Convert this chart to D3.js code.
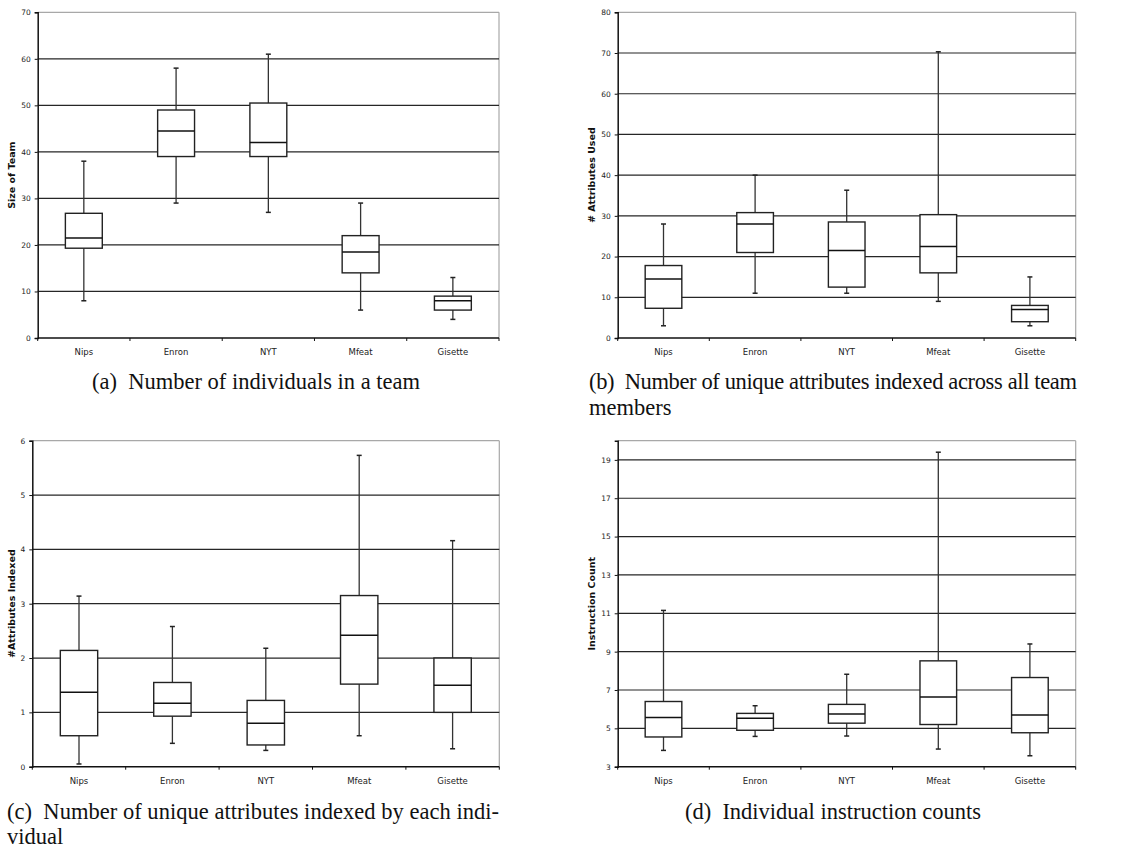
<!DOCTYPE html>
<html>
<head>
<meta charset="utf-8">
<script src="https://cdn.jsdelivr.net/npm/d3@7"></script>
<style>
  html, body { margin: 0; padding: 0; background: #fff; }
  svg { display: block; }
</style>
</head>
<body>
<svg id="chart" width="1125" height="850"></svg>
<script>
// ---- Data ----
const categories = ["Nips", "Enron", "NYT", "Mfeat", "Gisette"];

// (a) Size of team
const teamMin    = [8, 29, 27, 6, 4];
const teamQ1     = [19.3, 39, 39, 14, 6];
const teamMedian = [21.5, 44.5, 42, 18.5, 8];
const teamQ3     = [26.8, 49, 50.5, 22, 9];
const teamMax    = [38, 58, 61, 29, 13];
const teamTicks  = [0, 10, 20, 30, 40, 50, 60, 70];

// (b) # Attributes used
const usedMin    = [3, 11, 11, 9, 3];
const usedQ1     = [7.3, 21, 12.5, 16, 4];
const usedMedian = [14.5, 28, 21.5, 22.5, 7];
const usedQ3     = [17.8, 30.8, 28.5, 30.3, 8];
const usedMax    = [28, 40, 36.3, 70.3, 15];
const usedTicks  = [0, 10, 20, 30, 40, 50, 60, 70, 80];

// (c) #Attributes indexed
const idxMin     = [0.05, 0.43, 0.3, 0.57, 0.33];
const idxQ1      = [0.57, 0.93, 0.4, 1.52, 1.0];
const idxMedian  = [1.37, 1.17, 0.8, 2.42, 1.5];
const idxQ3      = [2.14, 1.55, 1.22, 3.15, 2.0];
const idxMax     = [3.14, 2.58, 2.18, 5.73, 4.16];
const idxTicks   = [0, 1, 2, 3, 4, 5, 6];

// (d) Instruction count
const instMin    = [3.85, 4.58, 4.6, 3.92, 3.57];
const instQ1     = [4.55, 4.9, 5.27, 5.2, 4.77];
const instMedian = [5.57, 5.53, 5.75, 6.63, 5.7];
const instQ3     = [6.4, 5.78, 6.25, 8.52, 7.65];
const instMax    = [11.15, 6.18, 7.82, 19.4, 9.4];
const instTicks  = [3, 5, 7, 9, 11, 13, 15, 17, 19];

const svg = d3.select("#chart");

function drawPanel(p) {
  const g = svg.append("g");
  const x = d3.scaleBand().domain(categories).range([p.left, p.right]).padding(0);
  const y = d3.scaleLinear().domain(p.domain).range([p.bottom, p.top]);

  // top / right frame (light gray)
  g.append("line").attr("x1", p.left).attr("x2", p.right).attr("y1", p.top).attr("y2", p.top)
    .attr("stroke", "#a8a8a8").attr("stroke-width", 1.2);
  g.append("line").attr("x1", p.right).attr("x2", p.right).attr("y1", p.top).attr("y2", p.bottom)
    .attr("stroke", "#a8a8a8").attr("stroke-width", 1.2);

  // gridlines
  g.selectAll(".grid").data(p.ticks.filter(t => t !== p.domain[0] && t !== p.domain[1]))
    .enter().append("line")
    .attr("x1", p.left).attr("x2", p.right)
    .attr("y1", d => y(d)).attr("y2", d => y(d))
    .attr("stroke", "#262626").attr("stroke-width", 1.2);

  // y axis
  const yAxis = d3.axisLeft(y).tickValues(p.ticks).tickSize(3).tickPadding(4).tickFormat(d3.format("d"));
  const ya = g.append("g").attr("transform", `translate(${p.left},0)`).call(yAxis);
  ya.select(".domain").attr("stroke", "#111").attr("stroke-width", 1.5);
  ya.selectAll(".tick line").attr("stroke", "#111");
  ya.selectAll(".tick text").attr("font-family", "DejaVu Sans, Verdana, sans-serif")
    .attr("font-size", 7.5).attr("fill", "#222");

  // x axis
  const xa = g.append("g").attr("transform", `translate(0,${p.bottom})`);
  xa.append("line").attr("x1", p.left).attr("x2", p.right).attr("y1", 0).attr("y2", 0)
    .attr("stroke", "#111").attr("stroke-width", 1.5);
  const bounds = categories.map(c => x(c)).concat([p.right]);
  xa.selectAll(".xt").data(bounds).enter().append("line")
    .attr("x1", d => d).attr("x2", d => d).attr("y1", 0).attr("y2", 3)
    .attr("stroke", "#111").attr("stroke-width", 1);
  xa.selectAll(".xl").data(categories).enter().append("text")
    .attr("x", d => x(d) + x.bandwidth() / 2).attr("y", 17)
    .attr("text-anchor", "middle")
    .attr("font-family", "DejaVu Sans, Verdana, sans-serif").attr("font-size", 8.5).attr("fill", "#222")
    .text(d => d);

  // y title
  g.append("text")
    .attr("transform", `translate(${p.titleX},${(p.top + p.bottom) / 2}) rotate(-90)`)
    .attr("text-anchor", "middle")
    .attr("font-family", "DejaVu Sans, Verdana, sans-serif").attr("font-size", 9.5)
    .attr("font-weight", "bold").attr("fill", "#111")
    .text(p.yTitle);

  // boxes
  const bw = x.bandwidth() * 0.4;
  const capW = 5;
  const data = categories.map((c, i) => ({
    c, min: p.min[i], q1: p.q1[i], med: p.median[i], q3: p.q3[i], max: p.max[i]
  }));
  const bx = g.selectAll(".box").data(data).enter().append("g");
  const cx = d => x(d.c) + x.bandwidth() / 2;
  // whiskers
  bx.append("line").attr("x1", cx).attr("x2", cx).attr("y1", d => y(d.max)).attr("y2", d => y(d.q3))
    .attr("stroke", "#333").attr("stroke-width", 1.3);
  bx.append("line").attr("x1", cx).attr("x2", cx).attr("y1", d => y(d.q1)).attr("y2", d => y(d.min))
    .attr("stroke", "#333").attr("stroke-width", 1.3);
  bx.append("line").attr("x1", d => cx(d) - capW / 2).attr("x2", d => cx(d) + capW / 2)
    .attr("y1", d => y(d.max)).attr("y2", d => y(d.max)).attr("stroke", "#222").attr("stroke-width", 1.5);
  bx.append("line").attr("x1", d => cx(d) - capW / 2).attr("x2", d => cx(d) + capW / 2)
    .attr("y1", d => y(d.min)).attr("y2", d => y(d.min)).attr("stroke", "#222").attr("stroke-width", 1.5);
  // box
  bx.append("rect").attr("x", d => cx(d) - bw / 2).attr("width", bw)
    .attr("y", d => y(d.q3)).attr("height", d => y(d.q1) - y(d.q3))
    .attr("fill", "#fff").attr("stroke", "#222").attr("stroke-width", 1.4);
  bx.append("line").attr("x1", d => cx(d) - bw / 2).attr("x2", d => cx(d) + bw / 2)
    .attr("y1", d => y(d.med)).attr("y2", d => y(d.med)).attr("stroke", "#111").attr("stroke-width", 1.5);

  // caption
  const cap = g.append("g").attr("font-family", "Liberation Serif, Times New Roman, serif")
    .attr("font-size", 22.5).attr("fill", "#111");
  p.caption.forEach(line => {
    const t = cap.append("text").attr("x", line.x).attr("y", line.y)
      .attr("text-anchor", line.anchor || "start").text(line.text);
    if (line.len) t.attr("textLength", line.len).attr("lengthAdjust", "spacing");
  });
}

drawPanel({
  left: 37.7, right: 499, top: 12.3, bottom: 338, domain: [0, 70], ticks: teamTicks,
  min: teamMin, q1: teamQ1, median: teamMedian, q3: teamQ3, max: teamMax,
  yTitle: "Size of Team", titleX: 15,
  caption: [{ text: "(a)\u00a0 Number of individuals in a team", x: 256, y: 389, anchor: "middle" }]
});
drawPanel({
  left: 617.7, right: 1075.7, top: 12.3, bottom: 338, domain: [0, 80], ticks: usedTicks,
  min: usedMin, q1: usedQ1, median: usedMedian, q3: usedQ3, max: usedMax,
  yTitle: "# Attributes Used", titleX: 595,
  caption: [
    { text: "(b)\u00a0 Number of unique attributes indexed across all team", x: 589, y: 389, len: 488 },
    { text: "members", x: 589, y: 415 }
  ]
});
drawPanel({
  left: 32.3, right: 499.3, top: 440.7, bottom: 766.7, domain: [0, 6], ticks: idxTicks,
  min: idxMin, q1: idxQ1, median: idxMedian, q3: idxQ3, max: idxMax,
  yTitle: "#Attributes Indexed", titleX: 15,
  caption: [
    { text: "(c)\u00a0 Number of unique attributes indexed by each indi-", x: 7, y: 819, len: 492 },
    { text: "vidual", x: 7, y: 844 }
  ]
});
drawPanel({
  left: 617.7, right: 1075.7, top: 440.7, bottom: 766.7, domain: [3, 20], ticks: instTicks,
  min: instMin, q1: instQ1, median: instMedian, q3: instQ3, max: instMax,
  yTitle: "Instruction Count", titleX: 595,
  caption: [{ text: "(d)\u00a0 Individual instruction counts", x: 833, y: 819, anchor: "middle" }]
});
</script>
</body>
</html>
